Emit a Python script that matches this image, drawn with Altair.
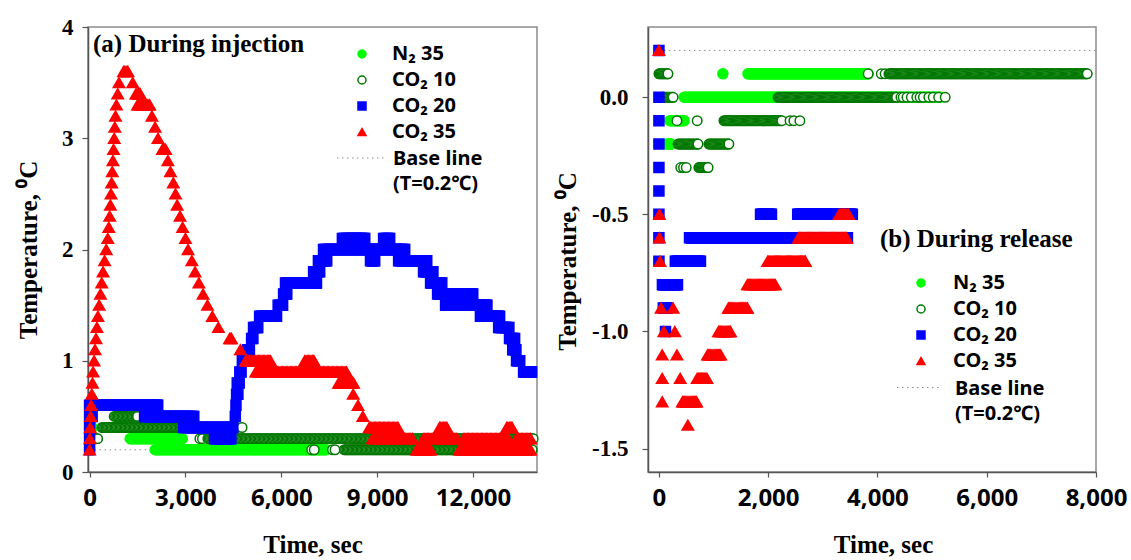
import altair as alt
import pandas as pd

alt.data_transformers.disable_max_rows()

# ---------------- series definitions ----------------
SERIES = ["N\u2082 35", "CO\u2082 10", "CO\u2082 20", "CO\u2082 35"]
FILLS = ["#00ff00", "#ffffff", "#0000ff", "#ff0000"]
STROKES = ["#00ff00", "#007800", "#0000ff", "#ff0000"]
SHAPES = ["circle", "circle", "square", "triangle-up"]
BASE_T = 0.2

# Runs of constant logger reading: (temperature degC, first sample s, last sample s)
# ---------- (a) During injection ----------
A_N2 = [(0.6, 0, 0), (0.5, 0, 0), (0.4, 0, 80), (0.3, 0, 0), (0.2, 0, 0),
        (0.3, 1270, 2900), (0.2, 2050, 7400)]
A_CO2_10 = [(0.3, 0, 250), (0.5, 770, 1500), (0.4, 390, 4600), (0.4, 4770, 4770),
            (0.3, 3450, 3450), (0.3, 3530, 3530), (0.3, 3700, 13880),
            (0.2, 6950, 6950), (0.2, 7030, 7030), (0.2, 7600, 7600), (0.2, 7680, 7680),
            (0.2, 7970, 13850)]
A_CO2_20 = [(0.2, 0, 0), (0.3, 0, 0), (0.4, 0, 0), (0.5, 0, 80),
            (0.6, 0, 2130), (0.5, 1720, 3260), (0.4, 2940, 4480), (0.3, 3910, 4420),
            (0.5, 4560, 4560), (0.6, 4580, 4580), (0.7, 4600, 4640), (0.8, 4620, 4680),
            (0.9, 4700, 4740), (1.0, 4780, 4820), (1.1, 4950, 5000), (1.2, 5070, 5110),
            (1.3, 5130, 5260), (1.4, 5320, 5850), (1.5, 5900, 6040), (1.6, 6070, 6170),
            (1.7, 6130, 7100), (1.8, 7010, 7200), (1.9, 7160, 7420), (2.0, 7320, 9860),
            (2.1, 7910, 8610), (1.9, 8790, 8920), (2.1, 9200, 9390), (1.9, 9670, 10550),
            (1.8, 10450, 10740), (1.7, 10670, 11020), (1.6, 10890, 11990),
            (1.5, 11140, 12430), (1.4, 12230, 12830), (1.3, 12800, 13120),
            (1.2, 13140, 13300), (1.1, 13240, 13340), (1.0, 13360, 13460),
            (0.9, 13580, 13830)]
A_CO2_35 = [(0.2, 0, 0), (0.3, 10, 10), (0.4, 20, 20), (0.5, 35, 35), (0.6, 50, 50),
            (0.7, 70, 70), (0.8, 90, 90), (0.9, 110, 110), (1.0, 140, 140),
            (1.1, 170, 170), (1.2, 200, 200), (1.3, 230, 230), (1.4, 260, 260),
            (1.5, 300, 300), (1.6, 340, 340), (1.7, 380, 380), (1.8, 420, 420),
            (1.9, 470, 470), (2.0, 520, 520), (2.1, 570, 570), (2.2, 600, 600),
            (2.3, 630, 630), (2.4, 650, 650), (2.5, 670, 670), (2.6, 690, 690),
            (2.7, 710, 710), (2.8, 730, 730), (2.9, 750, 750), (3.0, 770, 770),
            (3.1, 790, 790), (3.2, 810, 810), (3.3, 840, 840), (3.4, 880, 880),
            (3.5, 920, 920), (3.6, 1060, 1200), (3.5, 1350, 1350), (3.4, 1450, 1580),
            (3.3, 1500, 1880), (3.2, 1950, 1950), (3.1, 2050, 2050), (3.0, 2140, 2140),
            (2.9, 2280, 2380), (2.8, 2450, 2450), (2.7, 2530, 2530), (2.6, 2620, 2620),
            (2.5, 2690, 2690), (2.4, 2740, 2740), (2.3, 2830, 2830), (2.2, 2910, 2910),
            (2.1, 3000, 3000), (2.0, 3080, 3080), (1.9, 3200, 3200), (1.8, 3300, 3300),
            (1.7, 3420, 3420), (1.6, 3550, 3550), (1.5, 3690, 3690), (1.4, 3840, 3840),
            (1.3, 4030, 4030), (1.2, 4380, 4440), (1.1, 4720, 4720), (1.0, 4880, 5660),
            (0.9, 5200, 8040), (1.0, 6730, 7020), (0.8, 7790, 8260), (0.7, 8250, 8250),
            (0.6, 8400, 8400), (0.5, 8550, 8550), (0.4, 8750, 9650),
            (0.3, 8850, 10100), (0.2, 10230, 10670), (0.3, 10450, 11500),
            (0.4, 10950, 11180), (0.2, 11570, 13800), (0.3, 11700, 13100),
            (0.4, 13050, 13220), (0.3, 13350, 13800)]

# ---------- (b) During release ----------
B_N2 = [(-0.2, 150, 220), (-0.1, 200, 460), (0.0, 460, 5150),
        (0.1, 1170, 1170), (0.1, 1630, 3830)]
B_CO2_10 = [(0.1, 0, 165), (0.0, 50, 260), (-0.1, 330, 330), (-0.1, 700, 700),
            (-0.2, 350, 715), (-0.2, 915, 1280),
            (-0.3, 400, 400), (-0.3, 450, 450), (-0.3, 500, 500), (-0.3, 730, 900),
            (-0.1, 1190, 2250), (-0.1, 2400, 2400), (-0.1, 2470, 2470), (-0.1, 2580, 2580),
            (0.0, 2180, 4350), (0.0, 4430, 4430), (0.0, 4470, 4470), (0.0, 4540, 4540),
            (0.0, 4620, 4620), (0.0, 4720, 4720), (0.0, 4780, 4780), (0.0, 4840, 4840),
            (0.0, 4940, 4940), (0.0, 5020, 5020), (0.0, 5120, 5120), (0.0, 5240, 5240),
            (0.1, 3830, 3830), (0.1, 4070, 4070), (0.1, 4140, 4140), (0.1, 4210, 7840)]
B_CO2_20 = [(0.2, 0, 0), (0.0, 0, 0), (-0.1, 0, 0), (-0.2, 0, 0), (-0.3, 0, 0),
            (-0.4, 0, 0), (-0.5, 0, 0), (-0.6, 0, 0), (-0.7, 0, 0),
            (-0.8, 64, 340), (-0.9, 80, 155), (-1.0, 120, 120),
            (-0.7, 300, 760), (-0.6, 560, 3450), (-0.5, 1860, 2060), (-0.5, 2540, 3540)]
B_CO2_35 = [(0.2, 0, 0), (-0.5, 10, 10), (-0.6, 10, 10), (-0.7, 20, 20),
            (-0.9, 40, 40), (-1.1, 60, 60), (-1.2, 60, 60), (-1.3, 60, 60),
            (-1.0, 90, 90), (-0.9, 260, 260), (-1.0, 290, 290), (-1.1, 330, 330),
            (-1.2, 390, 390), (-1.3, 430, 690), (-1.4, 530, 530), (-1.2, 700, 880),
            (-1.1, 890, 1130), (-1.0, 1090, 1310), (-0.9, 1270, 1620),
            (-0.8, 1620, 2130), (-0.7, 1990, 2680), (-0.6, 2555, 3435),
            (-0.5, 3300, 3470)]

A_X_TICKS = [0, 3000, 6000, 9000, 12000]
A_Y_TICKS = [0, 1, 2, 3, 4]
B_X_TICKS = [0, 2000, 4000, 6000, 8000]
B_Y_TICKS = [0, -0.5, -1.0, -1.5]

DT_A = 40   # logger sampling interval used to lay out the runs (s)
DT_B = 20


def expand(runs, dt):
    ts, vs = [], []
    for v, t0, t1 in runs:
        t = t0
        while t < t1:
            ts.append(t)
            vs.append(v)
            t += dt
        ts.append(t1)
        vs.append(v)
    return pd.DataFrame({"t": ts, "T": vs})


SERIF = "Liberation Serif"
SANS = "Noto Sans"
MARK_SIZE = [100, 90, 100, 130]

fill_scale = alt.Scale(domain=SERIES, range=FILLS)
stroke_scale = alt.Scale(domain=SERIES, range=STROKES)
shape_scale = alt.Scale(domain=SERIES, range=SHAPES)


def series_legend(lx, ly, label_offset):
    return alt.Legend(orient="none", legendX=lx, legendY=ly, padding=0,
                      labelFont=SANS, labelFontSize=20, labelFontWeight="bold",
                      labelColor="black", symbolSize=64, symbolStrokeWidth=1.5,
                      rowPadding=6, labelOffset=label_offset)


def base_legend(lx, ly, label_offset, sym_size, path):
    return alt.Legend(orient="none", legendX=lx, legendY=ly, padding=0,
                      labelFont=SANS, labelFontSize=20, labelFontWeight="bold",
                      labelColor="black", labelBaseline="top",
                      labelOffset=label_offset,
                      labelExpr="['Base line', '(T=0.2\u2103)']",
                      symbolType=path, symbolSize=sym_size,
                      symbolStrokeColor="#8c8c8c", symbolStrokeWidth=1,
                      symbolDash=[1.5, 3.5], symbolFillColor="transparent")


def panel(runs_list, dt, xscale, yscale, xaxis, yaxis, t_end, width, leg, bleg, title):
    xenc_kw = dict(scale=xscale, axis=xaxis)
    yenc_kw = dict(scale=yscale, axis=yaxis)
    base_df = pd.DataFrame({"t0": [0], "t1": [t_end], "T": [BASE_T], "bl": ["Base line"]})
    base = alt.Chart(base_df).mark_rule(color="#8c8c8c", strokeWidth=1).encode(
        x=alt.X("t0:Q", **xenc_kw),
        x2="t1:Q",
        y=alt.Y("T:Q", **yenc_kw),
        strokeDash=alt.StrokeDash("bl:N", title=None, legend=bleg,
                                  scale=alt.Scale(domain=["Base line"], range=[[1.5, 3.5]])),
    )
    layers = [base]
    for i, runs in enumerate(runs_list):
        df = expand(runs, dt)
        df["series"] = SERIES[i]
        layers.append(
            alt.Chart(df).mark_point(opacity=1, strokeWidth=1.5, size=MARK_SIZE[i]).encode(
                x=alt.X("t:Q", **xenc_kw),
                y=alt.Y("T:Q", **yenc_kw),
                fill=alt.Fill("series:N", scale=fill_scale, legend=leg, title=None),
                stroke=alt.Stroke("series:N", scale=stroke_scale, legend=leg, title=None),
                shape=alt.Shape("series:N", scale=shape_scale, legend=leg, title=None),
            )
        )
    return alt.layer(*layers).properties(width=width, height=445, title=title)


common_axis = dict(grid=False, domainColor="#555555", domainWidth=1.5, tickColor="#555555",
                   tickWidth=1.2, labelColor="black", titleColor="black",
                   titleFont=SERIF, titleFontSize=25, titleFontWeight="bold")

xaxis_a = alt.Axis(values=A_X_TICKS, format=",d", labelFont=SANS, labelFontSize=24,
                   labelFontWeight="bold", labelPadding=9, tickSize=5, labelFlush=False,
                   title="Time, sec", titlePadding=22, **common_axis)
yaxis_a = alt.Axis(values=A_Y_TICKS, format="d", labelFont=SERIF, labelFontSize=23,
                   labelFontWeight="bold", labelPadding=9, tickSize=6,
                   title="Temperature, \u2070C", titlePadding=20, **common_axis)
xaxis_b = alt.Axis(values=B_X_TICKS, format=",d", labelFont=SANS, labelFontSize=24,
                   labelFontWeight="bold", labelPadding=9, tickSize=5, labelFlush=False,
                   title="Time, sec", titlePadding=22, titleX=235, **common_axis)
yaxis_b = alt.Axis(values=B_Y_TICKS, labelExpr="replace(format(datum.value, '.1f'), '\u2212', '-')",
                   labelFont=SERIF, labelFontSize=23, labelFontWeight="bold",
                   labelPadding=14, tickSize=6, title="Temperature, \u2070C",
                   titlePadding=11, titleY=234, **common_axis)

title_a = alt.TitleParams("(a) During injection", anchor="start", frame="group", orient="top",
                          offset=0, dx=5, dy=53, baseline="middle", font=SERIF,
                          fontSize=25, fontWeight="bold", color="black")
title_b = alt.TitleParams("(b) During release", anchor="start", frame="group", orient="top",
                          offset=0, dx=232, dy=237, baseline="middle", font=SERIF,
                          fontSize=25, fontWeight="bold", color="black")

left = panel([A_N2, A_CO2_10, A_CO2_20, A_CO2_35], DT_A,
             alt.Scale(domain=[-50, 14000], nice=False, zero=False),
             alt.Scale(domain=[0, 4], nice=False),
             xaxis_a, yaxis_a, 14000, 449,
             series_legend(264, 17, 20),
             base_legend(248.5, 97, 6.5, 2401, "M-1,0.367H1"),
             title_a)

right = panel([B_N2, B_CO2_10, B_CO2_20, B_CO2_35], DT_B,
              alt.Scale(domain=[-200, 8000], nice=False, zero=False),
              alt.Scale(domain=[-1.6, 0.3], nice=False, zero=False),
              xaxis_b, yaxis_b, 8000, 448,
              series_legend(263, 246, 22),
              base_legend(248.5, 330, 15.5, 1764, "M-1,0.43H1"),
              title_b)

chart = alt.hconcat(left, right, spacing=111, bounds="flush").resolve_scale(
    fill="independent", stroke="independent", shape="independent", strokeDash="independent"
).resolve_legend(
    fill="independent", stroke="independent", shape="independent", strokeDash="independent"
).configure(
    style={"guide-label": {"lineHeight": 25}}
).configure_view(stroke="#8c8c8c", strokeWidth=1.5).properties(
    background="white", padding={"left": 15, "top": 15, "right": 0, "bottom": 0}
)

chart.save("out.html", embed_options={"renderer": "svg", "actions": False})
